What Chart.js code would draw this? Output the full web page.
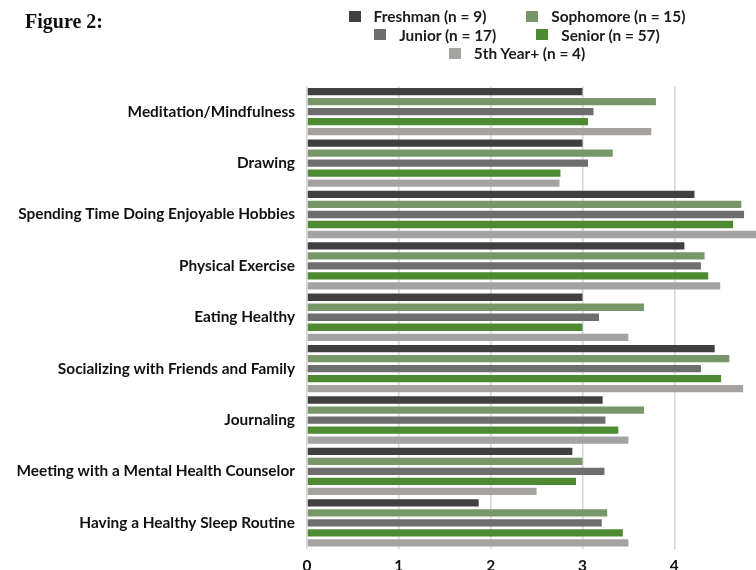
<!DOCTYPE html>
<html>
<head>
<meta charset="utf-8">
<title>Figure 2</title>
<script src="https://cdn.jsdelivr.net/npm/chart.js@4.4.1/dist/chart.umd.min.js"></script>
<style>
    html, body {
        margin: 0;
        padding: 0;
        background: #ffffff;
        overflow: hidden;
    }
    #wrap {
        position: relative;
        width: 756px;
        height: 570px;
        overflow: hidden;
    }
    #trendsChart {
        position: absolute;
        left: 0;
        top: 0;
    }
    #figTitle {
        position: absolute;
        left: 25px;
        top: 11px;
        font-family: 'Liberation Serif', serif;
        font-weight: bold;
        font-size: 20px;
        line-height: 20px;
        color: #111111;
    }
    #legend {
        position: absolute;
        left: 317px;
        top: 7px;
        width: 400px;
        font-family: Lato, sans-serif;
        font-weight: bold;
        font-size: 15.4px;
        color: #1b1b1b;
    }
    .legend-row {
        display: flex;
        justify-content: center;
        column-gap: 40px;
        height: 18.5px;
        line-height: 18.5px;
    }
    .legend-item {
        display: inline-flex;
        align-items: center;
        white-space: nowrap;
    }
    .legend-swatch {
        width: 12px;
        height: 11px;
        margin-right: 13px;
    }
</style>
</head>
<body>
<div id="wrap">
    <canvas id="trendsChart" width="756" height="583"></canvas>
    <div id="figTitle">Figure 2:</div>
    <div id="legend"></div>
</div>
<script>
// Chart values
const categories = [
    'Meditation/Mindfulness',
    'Drawing',
    'Spending Time Doing Enjoyable Hobbies',
    'Physical Exercise',
    'Eating Healthy',
    'Socializing with Friends and Family',
    'Journaling',
    'Meeting with a Mental Health Counselor',
    'Having a Healthy Sleep Routine'
];

const seriesLabels = ['Freshman (n = 9)', 'Sophomore (n = 15)', 'Junior (n = 17)', 'Senior (n = 57)', '5th Year+ (n = 4)'];

const freshman = [3.00, 3.00, 4.22, 4.11, 3.00, 4.44, 3.22, 2.89, 1.87];
const sophomore = [3.80, 3.33, 4.73, 4.33, 3.67, 4.60, 3.67, 3.00, 3.27];
const junior = [3.12, 3.06, 4.76, 4.29, 3.18, 4.29, 3.25, 3.24, 3.21];
const senior = [3.06, 2.76, 4.64, 4.37, 3.00, 4.51, 3.39, 2.93, 3.44];
const fifthYear = [3.75, 2.75, 5.00, 4.50, 3.50, 4.75, 3.50, 2.50, 3.50];

const xTicks = [0, 1, 2, 3, 4];

const seriesColors = ['#404040', '#779669', '#6e6e6e', '#4e8a32', '#a5a2a2'];

// which legend entries share a row
const legendRows = [[0, 1], [2, 3], [4]];

const labelFont = {
    family: 'Lato',
    size: 15.4,
    weight: 'bold'
};

function makeDataset(index, values) {
    return {
        label: seriesLabels[index],
        data: values,
        backgroundColor: seriesColors[index],
        borderWidth: 0,
        categoryPercentage: 0.974,
        barPercentage: 0.73
    };
}

function buildLegend(chart) {
    const holder = document.getElementById('legend');
    holder.innerHTML = '';
    legendRows.forEach(row => {
        const rowEl = document.createElement('div');
        rowEl.className = 'legend-row';
        row.forEach(i => {
            const ds = chart.data.datasets[i];
            const item = document.createElement('span');
            item.className = 'legend-item';
            const swatch = document.createElement('span');
            swatch.className = 'legend-swatch';
            swatch.style.background = ds.backgroundColor;
            const text = document.createElement('span');
            text.textContent = ds.label;
            item.appendChild(swatch);
            item.appendChild(text);
            rowEl.appendChild(item);
        });
        holder.appendChild(rowEl);
    });
}

const ctx = document.getElementById('trendsChart');

const chart = new Chart(ctx, {
    type: 'bar',
    data: {
        labels: categories,
        datasets: [
            makeDataset(0, freshman),
            makeDataset(1, sophomore),
            makeDataset(2, junior),
            makeDataset(3, senior),
            makeDataset(4, fifthYear)
        ]
    },
    options: {
        indexAxis: 'y',
        responsive: false,
        animation: false,
        layout: {
            padding: { top: 86, left: 0, right: 0, bottom: 0 }
        },
        plugins: {
            legend: { display: false },
            tooltip: { enabled: false }
        },
        scales: {
            x: {
                min: 0,
                max: 4.89,
                afterBuildTicks: function (scale) {
                    scale.ticks = xTicks.map(v => ({ value: v }));
                },
                ticks: {
                    font: labelFont,
                    color: '#111111',
                    padding: 8
                },
                grid: {
                    color: '#d6d6d6',
                    lineWidth: 1.5,
                    drawTicks: false
                },
                border: { display: false }
            },
            y: {
                afterFit: function (scale) {
                    scale.width = 307;
                },
                ticks: {
                    font: labelFont,
                    color: '#111111',
                    padding: 12
                },
                grid: { display: false, drawTicks: false },
                border: { display: false }
            }
        }
    }
});

buildLegend(chart);
</script>
</body>
</html>
